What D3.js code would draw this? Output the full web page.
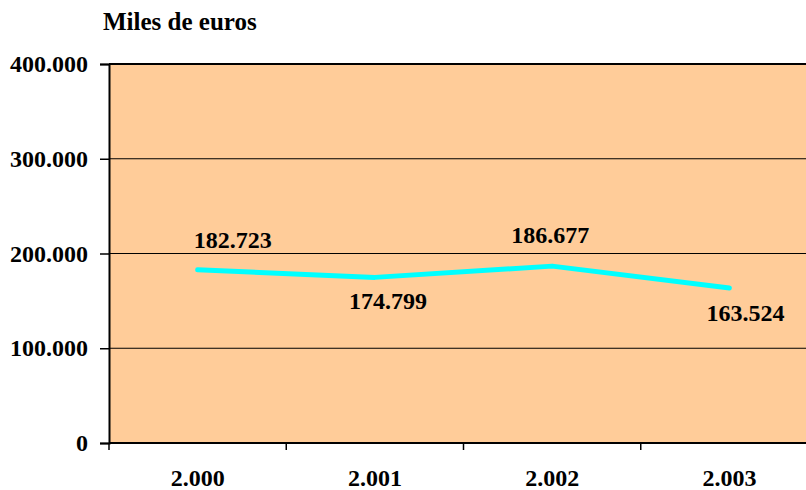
<!DOCTYPE html>
<html><head><meta charset="utf-8">
<script src="https://cdn.jsdelivr.net/npm/d3@7"></script>
<style>body{margin:0;background:#fff}svg{display:block}</style>
</head><body>
<script>
const years = ["2.000","2.001","2.002","2.003"];
const values = [182723,174799,186677,163524];
const valueLabels = ["182.723","174.799","186.677","163.524"];
const yTicks = [0,100000,200000,300000,400000];
const yTickLabels = ["0","100.000","200.000","300.000","400.000"];
const labelDx = [35,13,-2,16];
const labelDy = [-30,24,-31,25];

const FONT = "'Liberation Serif','Times New Roman',Times,serif";
const W=806,H=490;
const m={left:109,top:64,bottom:443,right:818};
const svg=d3.select("body").append("svg").attr("width",W).attr("height",H);
const x=d3.scaleBand().domain(years).range([m.left,m.right]);
const y=d3.scaleLinear().domain([0,400000]).range([m.bottom,m.top]);

function styleText(sel,size){
  sel.style("font-family",FONT).style("font-weight","bold").style("font-size",size+"px").style("fill","#000");
}

svg.append("rect").attr("x",m.left).attr("y",m.top).attr("width",m.right-m.left).attr("height",m.bottom-m.top).attr("fill","#FFCC99");
svg.selectAll("line.grid").data(yTicks.slice(1)).join("line").attr("class","grid")
  .attr("x1",m.left).attr("x2",m.right).attr("y1",d=>y(d)).attr("y2",d=>y(d))
  .attr("stroke","#000").attr("stroke-width",d=>d===400000?2:1.2);

// y axis
const ya=svg.append("g").attr("transform",`translate(${m.left},0)`)
  .call(d3.axisLeft(y).tickValues(yTicks).tickSize(9).tickPadding(12).tickFormat((d,i)=>yTickLabels[i]));
ya.attr("font-family",null).attr("font-size",null);
ya.select(".domain").attr("stroke","#000").attr("stroke-width",2);
ya.selectAll(".tick line").attr("stroke","#000").attr("stroke-width",1.5);
styleText(ya.selectAll("text"),24);

// x axis
const xa=svg.append("g").attr("transform",`translate(0,${m.bottom})`)
  .call(d3.axisBottom(x).tickSize(0).tickPadding(26));
xa.attr("font-family",null).attr("font-size",null);
xa.select(".domain").remove();
xa.append("line").attr("x1",m.left).attr("x2",m.right).attr("stroke","#000").attr("stroke-width",2);
styleText(xa.selectAll(".tick text"),24);
const bounds=years.map(d=>x(d)).concat([m.right]);
xa.selectAll("line.xt").data(bounds).join("line").attr("class","xt")
  .attr("x1",d=>d).attr("x2",d=>d).attr("y1",0).attr("y2",7).attr("stroke","#000").attr("stroke-width",1.5);

const line=d3.line().x((d,i)=>x(years[i])+x.bandwidth()/2).y(d=>y(d));
svg.append("path").datum(values).attr("d",line).attr("fill","none").attr("stroke","#00FFFF").attr("stroke-width",5).attr("stroke-linejoin","round").attr("stroke-linecap","round");

const vl=svg.selectAll("text.vl").data(values).join("text").attr("class","vl")
  .attr("x",(d,i)=>x(years[i])+x.bandwidth()/2+labelDx[i])
  .attr("y",(d,i)=>y(d)+labelDy[i])
  .attr("text-anchor","middle").attr("dominant-baseline","central")
  .text((d,i)=>valueLabels[i]);
styleText(vl,24);

styleText(svg.append("text").attr("x",103).attr("y",30).text("Miles de euros"),25);
</script>
</body></html>
